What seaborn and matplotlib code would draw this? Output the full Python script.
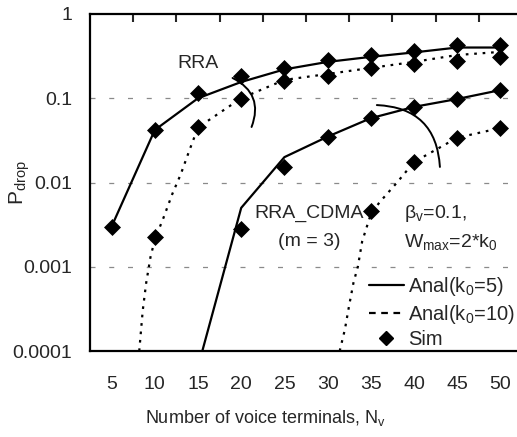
import numpy as np
import pandas as pd
import matplotlib
matplotlib.use("Agg")
import matplotlib.pyplot as plt
import seaborn as sns
from matplotlib.lines import Line2D
from matplotlib.ticker import FixedLocator, NullLocator, FuncFormatter

# number of voice terminals
n_terminals = [5, 10, 15, 20, 25, 30, 35, 40, 45, 50]

# simulation points (diamonds)
sim_rra_k5 = [0.003, 0.042, 0.115, 0.183, 0.229, 0.284, 0.326, 0.364, 0.43, 0.43]
sim_rra_k10 = [np.nan, 0.00225, 0.045, 0.098, 0.16, 0.183, 0.229, 0.255, 0.277, 0.31]
sim_cdma_k5 = [np.nan, np.nan, np.nan, 0.0028, 0.0153, 0.0347, 0.058, 0.079, 0.098, 0.125]
sim_cdma_k10 = [np.nan, np.nan, np.nan, np.nan, np.nan, np.nan, 0.0046, 0.0175, 0.034, 0.0443]

# analytical curves
anal_rra_k5_n = [5, 10, 15, 20, 25, 30, 35, 40, 45, 50]
anal_rra_k5 = [0.003, 0.042, 0.1, 0.156, 0.22, 0.27, 0.31, 0.35, 0.4, 0.4]
anal_rra_k10_n = [8.2, 8.6, 9, 9.5, 10, 11, 12, 13, 14, 15, 20, 25, 30, 35, 40, 45, 50]
anal_rra_k10 = [0.0001, 0.0003, 0.00064, 0.0013, 0.0021, 0.0038, 0.0072, 0.0125,
                0.024, 0.045, 0.1, 0.165, 0.194, 0.229, 0.27, 0.326, 0.355]
anal_cdma_k5_n = [15.5, 20, 25, 30, 35, 40, 45, 50]
anal_cdma_k5 = [0.0001, 0.005, 0.02, 0.035, 0.058, 0.079, 0.098, 0.125]
anal_cdma_k10_n = [31.4, 32, 32.5, 33, 33.5, 34, 35, 36, 38, 40, 45, 50]
anal_cdma_k10 = [0.0001, 0.00018, 0.00035, 0.00065, 0.001, 0.002, 0.0042, 0.0058,
                 0.0099, 0.0175, 0.034, 0.0443]

y_ticks = [0.0001, 0.001, 0.01, 0.1, 1]
y_ticklabels = ["0.0001", "0.001", "0.01", "0.1", "1"]

sns.set_theme(style="white")
plt.rcParams["font.family"] = ["Liberation Sans", "DejaVu Sans"]
plt.rcParams["mathtext.fontset"] = "custom"
plt.rcParams["mathtext.rm"] = "Liberation Sans"
plt.rcParams["mathtext.it"] = "Liberation Sans:italic"
plt.rcParams["font.size"] = 14

fig = plt.figure(figsize=(5.17, 4.37), dpi=100)
ax = fig.add_axes([90 / 517, 1 - 351 / 437, 432 / 517, 337 / 437])

dotted = (0, (1.2, 2.6))
for xs, ys, ls in [(anal_rra_k5_n, anal_rra_k5, "-"),
                   (anal_rra_k10_n, anal_rra_k10, dotted),
                   (anal_cdma_k5_n, anal_cdma_k5, "-"),
                   (anal_cdma_k10_n, anal_cdma_k10, dotted)]:
    sns.lineplot(x=xs, y=ys, ax=ax, color="black", linewidth=1.6,
                 linestyle=ls, estimator=None, sort=False)

sim = pd.DataFrame({"N": n_terminals * 4,
                    "P": sim_rra_k5 + sim_rra_k10 + sim_cdma_k5 + sim_cdma_k10}).dropna()
sns.scatterplot(data=sim, x="N", y="P", ax=ax, marker="D", color="black",
                s=75, edgecolor="black", linewidth=0, zorder=5)

ax.set_yscale("log")
ax.set_ylim(0.0001, 1)
ax.set_xlim(2.5, 52.5)
ax.yaxis.set_major_locator(FixedLocator(y_ticks))
ax.yaxis.set_major_formatter(FuncFormatter(lambda v, p: y_ticklabels[y_ticks.index(v)] if v in y_ticks else ""))
ax.yaxis.set_minor_locator(NullLocator())
ax.set_xticks(n_terminals)
ax.xaxis.set_minor_locator(FixedLocator([7.5 + 5 * i for i in range(9)]))
ax.tick_params(axis="x", which="major", length=0, pad=18, labelsize=14)
ax.tick_params(axis="x", which="minor", bottom=False, top=True, direction="in",
               length=6, width=1.5)
ax.tick_params(axis="y", which="major", length=0, pad=13, labelsize=14)

for y in [0.1, 0.01, 0.001]:
    ax.axhline(y, color="#8a8a8a", linewidth=0.9, linestyle=(0, (4, 11)), zorder=0)

for side in ["left", "top", "bottom"]:
    ax.spines[side].set_color("black")
    ax.spines[side].set_linewidth(1.6)
ax.spines["right"].set_visible(False)

ax.set_ylabel(r"P$_{\mathrm{drop}}$", fontsize=15)
ax.yaxis.set_label_coords(-0.135, 0.5)
ax.set_xlabel(r"Number of voice terminals, N$_{\mathrm{v}}$", fontsize=13)
ax.xaxis.set_label_coords(0.405, -0.168)

# curve labels and brackets
ax.text(15, 0.26, "RRA", ha="center", va="center", fontsize=14)
ax.text(27.9, 0.00434, "RRA_CDMA", ha="center", va="center", fontsize=14)
ax.text(27.9, 0.00197, "(m = 3)", ha="center", va="center", fontsize=14)
ax.text(38.9, 0.00434, r"β$_{\mathrm{v}}$=0.1,", ha="left", va="center", fontsize=14)
ax.text(38.9, 0.00197, r"W$_{\mathrm{max}}$=2*k$_0$", ha="left", va="center", fontsize=14)
ax.annotate("", xy=(21.2, 0.0456), xytext=(19.0, 0.174),
            arrowprops=dict(arrowstyle="-", color="black", lw=1.4,
                            connectionstyle="arc3,rad=-0.45", shrinkA=0, shrinkB=0))
ax.annotate("", xy=(43.0, 0.0153), xytext=(35.7, 0.083),
            arrowprops=dict(arrowstyle="-", color="black", lw=1.4,
                            connectionstyle="arc3,rad=-0.45", shrinkA=0, shrinkB=0))

handles = [Line2D([], [], color="black", linewidth=1.6, linestyle="-"),
           Line2D([], [], color="black", linewidth=1.6, linestyle=(0, (3, 2.5))),
           Line2D([], [], color="black", marker="D", markersize=7, linestyle="none")]
labels = [r"Anal(k$_0$=5)", r"Anal(k$_0$=10)", "Sim"]
ax.legend(handles, labels, loc="upper left", bbox_to_anchor=(0.645, 0.225),
          frameon=False, fontsize=14.5, handlelength=1.75, handletextpad=0.2,
          labelspacing=0.22, borderpad=0, borderaxespad=0)

fig.savefig("out.png", dpi=100)
